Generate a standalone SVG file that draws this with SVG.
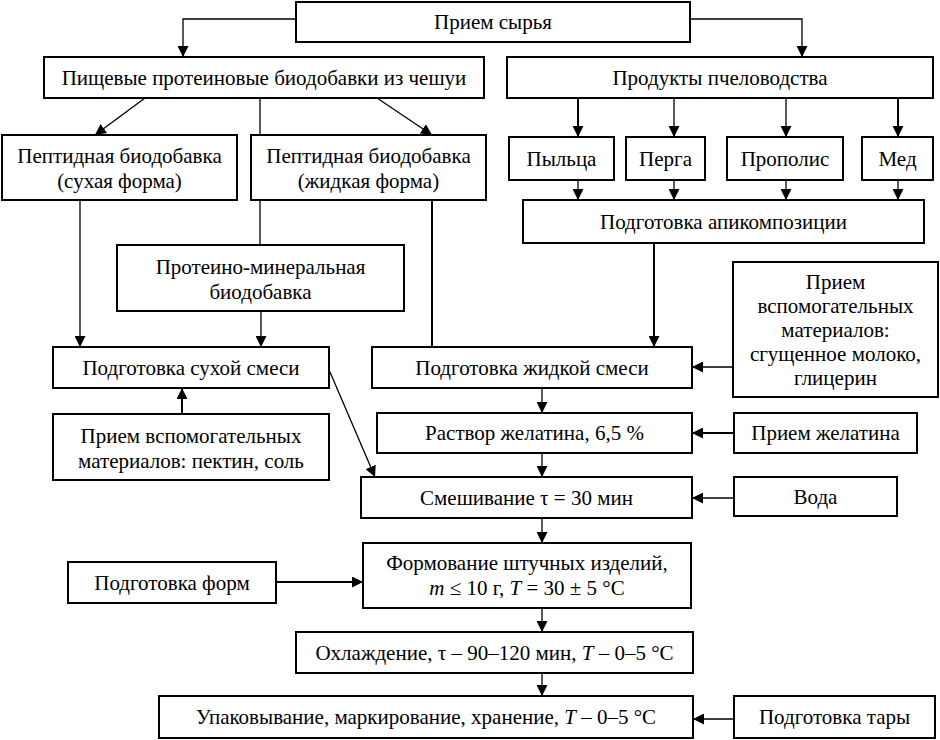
<svg xmlns="http://www.w3.org/2000/svg" width="940" height="740" viewBox="0 0 940 740">
<style>
rect{fill:#fff;stroke:#000;stroke-width:2}
text{text-anchor:middle;fill:#000}
.c line,.c polyline{stroke:#000;stroke-width:1.3;fill:none}
.c .t{stroke-width:2}
.i{font-style:italic}
</style>
<defs>
<marker id="a" markerUnits="userSpaceOnUse" markerWidth="11" markerHeight="11" refX="11" refY="5.5" orient="auto" viewBox="0 0 11 11"><path d="M0,0L11,5.5L0,11z" fill="#000"/></marker>
</defs>
<rect x="0" y="0" width="940" height="740" style="fill:#fff;stroke:none"/>
<g class="c">
<polyline points="296,19 183,19 183,57" marker-end="url(#a)"/>
<polyline points="690,19 802,19 802,57" marker-end="url(#a)"/>
<line x1="145" y1="98" x2="95" y2="135" marker-end="url(#a)"/>
<line x1="377" y1="98" x2="432" y2="135" marker-end="url(#a)"/>
<line x1="260" y1="98" x2="260" y2="135"/>
<line x1="260" y1="200" x2="260" y2="245"/>
<line x1="80" y1="200" x2="80" y2="347" marker-end="url(#a)"/>
<line x1="261" y1="311" x2="261" y2="347" marker-end="url(#a)"/>
<line class="t" x1="432" y1="200" x2="432" y2="347"/>
<line class="t" x1="182" y1="414" x2="182" y2="388" marker-end="url(#a)"/>
<line x1="330" y1="372" x2="375" y2="477" marker-end="url(#a)"/>
<line class="t" x1="578" y1="98" x2="578" y2="137" marker-end="url(#a)"/>
<line x1="674" y1="98" x2="674" y2="137" marker-end="url(#a)"/>
<line x1="786" y1="98" x2="786" y2="137" marker-end="url(#a)"/>
<line class="t" x1="898" y1="98" x2="898" y2="137" marker-end="url(#a)"/>
<line x1="578" y1="180" x2="578" y2="200" marker-end="url(#a)"/>
<line x1="674" y1="180" x2="674" y2="200" marker-end="url(#a)"/>
<line x1="786" y1="180" x2="786" y2="200" marker-end="url(#a)"/>
<line x1="898" y1="180" x2="898" y2="200" marker-end="url(#a)"/>
<line class="t" x1="654" y1="243" x2="654" y2="347" marker-end="url(#a)"/>
<line x1="733" y1="367" x2="692" y2="367" marker-end="url(#a)"/>
<line x1="542" y1="388" x2="542" y2="413" marker-end="url(#a)"/>
<line class="t" x1="734" y1="433" x2="692" y2="433" marker-end="url(#a)"/>
<line x1="542" y1="453" x2="542" y2="477" marker-end="url(#a)"/>
<line x1="734" y1="498" x2="692" y2="498" marker-end="url(#a)"/>
<line x1="542" y1="518" x2="542" y2="543" marker-end="url(#a)"/>
<line class="t" x1="276" y1="582" x2="363" y2="582" marker-end="url(#a)"/>
<line x1="542" y1="608" x2="542" y2="632" marker-end="url(#a)"/>
<line x1="542" y1="673" x2="542" y2="696" marker-end="url(#a)"/>
<line x1="734" y1="719" x2="693" y2="719" marker-end="url(#a)"/>
</g>
<g id="raw"><rect x="296" y="2" width="394" height="40"/><text style="font-family:'Liberation Serif',serif;font-size:21px" x="493" y="29">Прием сырья</text></g>
<g id="fish"><rect x="44" y="57" width="440" height="41"/><text style="font-family:'Liberation Serif',serif;font-size:21px" x="264" y="85">Пищевые протеиновые биодобавки из чешуи</text></g>
<g id="bee"><rect x="507" y="57" width="426" height="41"/><text style="font-family:'Liberation Serif',serif;font-size:21px" x="720" y="85">Продукты пчеловодства</text></g>
<g id="drypep"><rect x="2" y="135" width="235" height="65"/><text style="font-family:'Liberation Serif',serif;font-size:21px" x="119.5" y="163">Пептидная биодобавка</text><text style="font-family:'Liberation Serif',serif;font-size:21px" x="119.5" y="188">(сухая форма)</text></g>
<g id="liqpep"><rect x="251" y="135" width="235" height="65"/><text style="font-family:'Liberation Serif',serif;font-size:21px" x="368.5" y="163">Пептидная биодобавка</text><text style="font-family:'Liberation Serif',serif;font-size:21px" x="368.5" y="188">(жидкая форма)</text></g>
<g id="pollen"><rect x="509" y="137" width="105" height="43"/><text style="font-family:'Liberation Serif',serif;font-size:21px" x="561.5" y="166">Пыльца</text></g>
<g id="perga"><rect x="626" y="137" width="79" height="43"/><text style="font-family:'Liberation Serif',serif;font-size:21px" x="665.5" y="166">Перга</text></g>
<g id="propolis"><rect x="727" y="137" width="116" height="43"/><text style="font-family:'Liberation Serif',serif;font-size:21px" x="785" y="166">Прополис</text></g>
<g id="honey"><rect x="862" y="137" width="71" height="43"/><text style="font-family:'Liberation Serif',serif;font-size:21px" x="897.5" y="166">Мед</text></g>
<g id="api"><rect x="523" y="200" width="401" height="43"/><text style="font-family:'Liberation Serif',serif;font-size:21px" x="723.5" y="229">Подготовка апикомпозиции</text></g>
<g id="protmin"><rect x="117" y="245" width="287" height="66"/><text style="font-family:'Liberation Serif',serif;font-size:21px" x="260.5" y="274">Протеино-минеральная</text><text style="font-family:'Liberation Serif',serif;font-size:21px" x="260.5" y="299">биодобавка</text></g>
<g id="drymix"><rect x="53" y="347" width="276" height="41"/><text style="font-family:'Liberation Serif',serif;font-size:21px" x="191" y="375">Подготовка сухой смеси</text></g>
<g id="aux1"><rect x="53" y="414" width="276" height="66"/><text style="font-family:'Liberation Serif',serif;font-size:21px" x="191" y="443">Прием вспомогательных</text><text style="font-family:'Liberation Serif',serif;font-size:21px" x="191" y="468">материалов: пектин, соль</text></g>
<g id="liqmix"><rect x="372" y="347" width="320" height="41"/><text style="font-family:'Liberation Serif',serif;font-size:21px" x="532" y="375">Подготовка жидкой смеси</text></g>
<g id="aux2"><rect x="733" y="262" width="205" height="135"/><text style="font-family:'Liberation Serif',serif;font-size:21px" x="835.5" y="289">Прием</text><text style="font-family:'Liberation Serif',serif;font-size:21px" x="835.5" y="313">вспомогательных</text><text style="font-family:'Liberation Serif',serif;font-size:21px" x="835.5" y="337">материалов:</text><text style="font-family:'Liberation Serif',serif;font-size:21px" x="835.5" y="361">сгущенное молоко,</text><text style="font-family:'Liberation Serif',serif;font-size:21px" x="835.5" y="385">глицерин</text></g>
<g id="gel"><rect x="377" y="413" width="315" height="40"/><text style="font-family:'Liberation Serif',serif;font-size:21px" x="534.5" y="440">Раствор желатина, 6,5 %</text></g>
<g id="gelrecv"><rect x="734" y="413" width="183" height="40"/><text style="font-family:'Liberation Serif',serif;font-size:21px" x="825.5" y="440">Прием желатина</text></g>
<g id="mix"><rect x="361" y="477" width="331" height="41"/><text style="font-family:'Liberation Serif',serif;font-size:21px" x="526.5" y="505">Смешивание τ = 30 мин</text></g>
<g id="water"><rect x="734" y="477" width="163" height="39"/><text style="font-family:'Liberation Serif',serif;font-size:21px" x="815.5" y="504">Вода</text></g>
<g id="form"><rect x="363" y="543" width="328" height="65"/><text style="font-family:'Liberation Serif',serif;font-size:21px" x="527" y="570">Формование штучных изделий,</text><text style="font-family:'Liberation Serif',serif;font-size:21px" x="527" y="595"><tspan class="i">m</tspan> ≤ 10 г, <tspan class="i">T</tspan> = 30 ± 5 °C</text></g>
<g id="forms"><rect x="68" y="562" width="208" height="41"/><text style="font-family:'Liberation Serif',serif;font-size:21px" x="172" y="590">Подготовка форм</text></g>
<g id="cool"><rect x="296" y="632" width="397" height="41"/><text style="font-family:'Liberation Serif',serif;font-size:21px" x="494.5" y="660">Охлаждение, τ – 90–120 мин, <tspan class="i">T</tspan> – 0–5 °C</text></g>
<g id="pack"><rect x="159" y="696" width="534" height="42"/><text style="font-family:'Liberation Serif',serif;font-size:21px" x="426" y="724">Упаковывание, маркирование, хранение, <tspan class="i">T</tspan> – 0–5 °C</text></g>
<g id="tare"><rect x="734" y="696" width="201" height="42"/><text style="font-family:'Liberation Serif',serif;font-size:21px" x="834.5" y="724">Подготовка тары</text></g>
</svg>
